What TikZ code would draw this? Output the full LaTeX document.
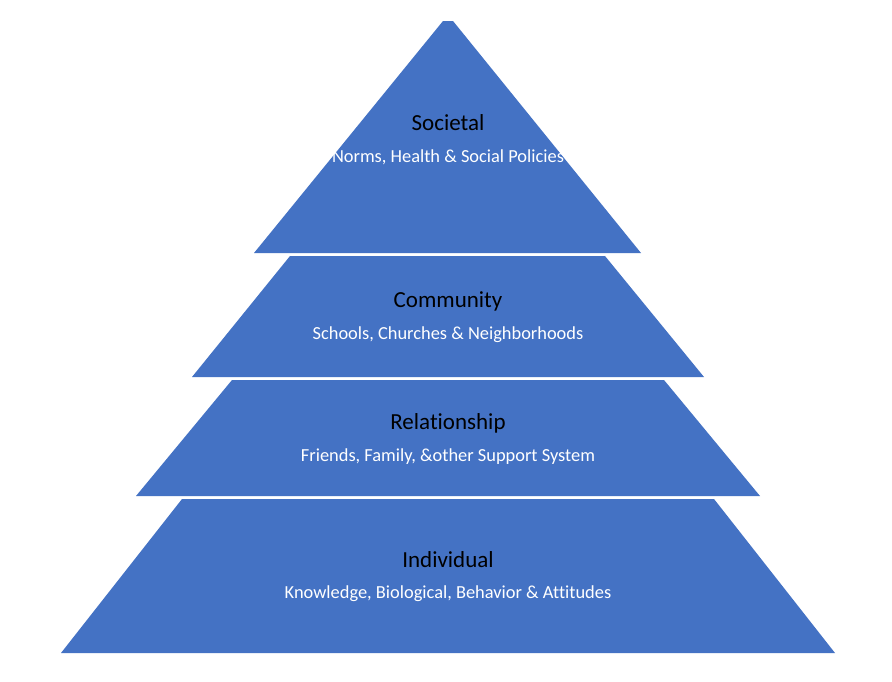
\documentclass[tikz,border=0pt]{standalone}
\usepackage{fontspec}
\setmainfont{Carlito}[Ligatures=NoCommon]
\definecolor{officeblue}{HTML}{4472C4}
\begin{document}
\begin{tikzpicture}[x=1pt,y=-1pt,
  layer/.style={fill=officeblue,draw=none},
  ttl/.style={text=black,font=\fontsize{23}{26}\selectfont,inner sep=0pt},
  sub/.style={text=white,font=\fontsize{18.4}{21}\selectfont,inner sep=0pt}]
\useasboundingbox[fill=white] (0,0) rectangle (892,681);
\fill[layer] (443,21) -- (453,21) -- (641,253) -- (254,253) -- cycle;
\fill[layer] (290,256) -- (605,256) -- (704,377) -- (192,377) -- cycle;
\fill[layer] (232,380) -- (664,380) -- (760,496) -- (136,496) -- cycle;
\fill[layer] (182,499) -- (714,499) -- (835,653) -- (61,653) -- cycle;
\node[ttl] (t1) at (448,123) {Societal};
\node[sub] (s1) at (448,157) {Norms, Health \& Social Policies};
\node[ttl] (t2) at (448,301) {Community};
\node[sub] (s2) at (448,335) {Schools, Churches \& Neighborhoods};
\node[ttl] (t3) at (448,423) {Relationship};
\node[sub] (s3) at (448,457) {Friends, Family, \&other Support System};
\node[ttl] (t4) at (448,560) {Individual};
\node[sub] (s4) at (448,594) {Knowledge, Biological, Behavior \& Attitudes};
\end{tikzpicture}
\end{document}
